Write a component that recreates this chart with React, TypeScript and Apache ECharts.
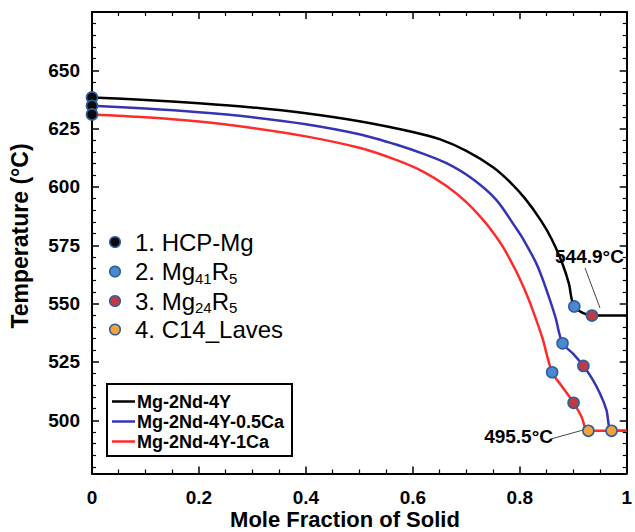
import React, { useEffect, useRef } from "react";
import * as echarts from "echarts";

const FONT = '"Liberation Sans", Arial, Helvetica, sans-serif';

// Axis ranges / ticks
const X_MIN = 0;
const X_MAX = 1;
const Y_MIN = 477.2;
const Y_MAX = 675;
const Y_MAJOR = [500, 525, 550, 575, 600, 625, 650, 675];
const Y_MINOR = [480, 485, 490, 495, 505, 510, 515, 520, 530, 535, 540, 545, 555, 560, 565, 570, 580, 585, 590, 595, 605, 610, 615, 620, 630, 635, 640, 645, 655, 660, 665, 670];
const Y_LABELS = [500, 525, 550, 575, 600, 625, 650];

// Alloys (line series)
const ALLOYS = ["Mg-2Nd-4Y", "Mg-2Nd-4Y-0.5Ca", "Mg-2Nd-4Y-1Ca"];
const ALLOY_COLORS = ["#000000", "#3434b4", "#ff2a2a"];

// Mg-2Nd-4Y
const blackX = [0, 0.1, 0.2, 0.3, 0.4, 0.5, 0.6, 0.65, 0.7, 0.75, 0.78, 0.81, 0.84, 0.86, 0.88, 0.892, 0.902, 0.935, 1.0];
const blackT = [638.4, 637.3, 635.9, 634.1, 631.6, 628.2, 623.6, 620.5, 615.5, 608.5, 602.5, 595.0, 585.5, 577.5, 567.0, 558.5, 548.8, 544.9, 544.9];

// Mg-2Nd-4Y-0.5Ca
const blueX = [0, 0.1, 0.2, 0.3, 0.4, 0.5, 0.57, 0.62, 0.663, 0.71, 0.756, 0.793, 0.805, 0.83, 0.842, 0.856, 0.867, 0.88, 0.9, 0.919, 0.935, 0.95, 0.962, 0.9716, 1.0];
const blueT = [634.8, 633.6, 632.0, 629.9, 626.9, 622.6, 618.1, 614.2, 610.2, 603.7, 594.5, 582.4, 578.2, 567.7, 561.0, 551.8, 543.9, 533.0, 528.5, 523.3, 518.0, 511.5, 504.5, 495.5, 495.5];

// Mg-2Nd-4Y-1Ca
const redX = [0, 0.1, 0.2, 0.3, 0.4, 0.5, 0.57, 0.62, 0.663, 0.7, 0.731, 0.75, 0.768, 0.793, 0.81, 0.823, 0.842, 0.8605, 0.88, 0.9006, 0.915, 0.9283, 1.0];
const redT = [631.1, 629.9, 628.1, 625.3, 621.7, 616.8, 611.5, 606.5, 600.4, 593.5, 586.0, 580.5, 574.5, 564.0, 555.5, 548.0, 535.5, 520.6, 514.2, 507.5, 501.8, 495.5, 495.5];

// Phase markers
const PHASES = ["1. HCP-Mg", "2. Mg{sub|41}R{sub|5}", "3. Mg{sub|24}R{sub|5}", "4. C14_Laves"];
const PHASE_COLORS = ["#0b0b0b", "#4a88d0", "#c03a40", "#f5a23a"];
const MARKER_BORDER = "#2e5f9e";
const hcpX = [0, 0, 0];
const hcpT = [638.4, 634.8, 631.1];
const mg41X = [0.902, 0.88, 0.8605];
const mg41T = [548.8, 533.0, 520.6];
const mg24X = [0.935, 0.919, 0.9006];
const mg24T = [544.9, 523.3, 507.5];
const c14X = [0.9716, 0.9283];
const c14T = [495.5, 495.5];

// Annotations
const ANNOT_TEXT = ["544.9°C", "495.5°C"];
const arrow1 = [[0.922, 565.3], [0.95, 548.2]];
const arrow2 = [[0.857, 491.9], [0.921, 496.0]];

const zip = (xs: number[], ys: number[]) => xs.map((x, i) => [x, ys[i]]);

function buildOption() {
  const xBase = (position: "bottom" | "top", showLabel: boolean) => ({
    type: "value",
    position,
    min: X_MIN,
    max: X_MAX,
    interval: 0.2,
    axisLine: { show: true, onZero: false, lineStyle: { color: "#000", width: 2 } },
    axisTick: { show: true, inside: true, length: 7, lineStyle: { color: "#000", width: 1.5 } },
    minorTick: { show: true, splitNumber: 4, length: 4, lineStyle: { color: "#000", width: 1.2 } },
    splitLine: { show: false },
    minorSplitLine: { show: false },
    axisLabel: {
      show: showLabel,
      margin: 14,
      color: "#000",
      fontFamily: FONT,
      fontWeight: "bold",
      fontSize: 19,
      formatter: (v: number) => String(Math.round(v * 10) / 10),
    },
  });

  const yBase = (position: "left" | "right", major: boolean, showLabel: boolean) => ({
    type: "value",
    position,
    min: Y_MIN,
    max: Y_MAX,
    axisLine: { show: major, onZero: false, lineStyle: { color: "#000", width: 2 } },
    axisTick: {
      show: true,
      inside: true,
      length: major ? 7 : 4,
      customValues: major ? Y_MAJOR : Y_MINOR,
      lineStyle: { color: "#000", width: major ? 1.5 : 1.2 },
    },
    splitLine: { show: false },
    axisLabel: {
      show: showLabel,
      customValues: showLabel ? Y_LABELS : undefined,
      margin: 12,
      color: "#000",
      fontFamily: FONT,
      fontWeight: "bold",
      fontSize: 19,
    },
  });

  const lineSeries = (name: string, color: string, xs: number[], ys: number[], z: number, markLine?: any) => ({
    type: "line",
    name,
    data: zip(xs, ys),
    xAxisIndex: 0,
    yAxisIndex: 0,
    showSymbol: false,
    symbol: "none",
    smooth: 0.3,
    z,
    lineStyle: { color, width: 2.5 },
    markLine,
  });

  const arrowML = (pts: number[][]) => ({
    silent: true,
    symbol: ["none", "arrow"],
    symbolSize: [0, 7],
    label: { show: false },
    lineStyle: { color: "#444", width: 1, type: "solid" },
    data: [[{ coord: pts[0] }, { coord: pts[1] }]],
  });

  const scatter = (name: string, color: string, xs: number[], ys: number[]) => ({
    type: "scatter",
    name,
    data: zip(xs, ys),
    xAxisIndex: 0,
    yAxisIndex: 0,
    symbol: "circle",
    symbolSize: 11,
    clip: false,
    z: 10,
    itemStyle: { color, borderColor: MARKER_BORDER, borderWidth: 1.6, opacity: 1 },
  });

  const legendYs = [242, 271.5, 301, 329.5];
  const lineLegendYs = [401.5, 421.5, 441.5];

  const graphic: any[] = [
    {
      type: "text",
      x: 20,
      y: 236,
      rotation: Math.PI / 2,
      style: {
        text: "Temperature (°C)",
        fontFamily: FONT,
        fontWeight: "bold",
        fontSize: 23,
        fill: "#000",
        align: "center",
        verticalAlign: "middle",
      },
    },
    {
      type: "text",
      x: 345,
      y: 519,
      style: {
        text: "Mole Fraction of Solid",
        fontFamily: FONT,
        fontWeight: "bold",
        fontSize: 22,
        fill: "#000",
        align: "center",
        verticalAlign: "middle",
      },
    },
    {
      type: "text",
      x: 555,
      y: 256,
      z: 20,
      style: { text: ANNOT_TEXT[0], fontFamily: FONT, fontWeight: "bold", fontSize: 19, fill: "#000", align: "left", verticalAlign: "middle" },
    },
    {
      type: "text",
      x: 553,
      y: 436,
      z: 20,
      style: { text: ANNOT_TEXT[1], fontFamily: FONT, fontWeight: "bold", fontSize: 19, fill: "#000", align: "right", verticalAlign: "middle" },
    },
  ];

  PHASES.forEach((label, i) => {
    graphic.push({
      type: "circle",
      z: 20,
      shape: { cx: 115, cy: legendYs[i], r: 5.3 },
      style: { fill: PHASE_COLORS[i], stroke: MARKER_BORDER, lineWidth: 1.5 },
    });
    graphic.push({
      type: "text",
      x: 135,
      y: legendYs[i],
      z: 20,
      style: {
        text: label,
        fontFamily: FONT,
        fontSize: 24,
        fill: "#000",
        align: "left",
        verticalAlign: "middle",
        lineHeight: 28,
        rich: {
          sub: { fontFamily: FONT, fontSize: 15, fill: "#000", verticalAlign: "bottom", lineHeight: 15 },
        },
      },
    });
  });

  graphic.push({
    type: "rect",
    z: 20,
    shape: { x: 107, y: 384, width: 185, height: 72 },
    style: { fill: "#fff", stroke: "#000", lineWidth: 2 },
  });
  ALLOYS.forEach((name, i) => {
    graphic.push({
      type: "line",
      z: 21,
      shape: { x1: 112, y1: lineLegendYs[i], x2: 135, y2: lineLegendYs[i] },
      style: { stroke: ALLOY_COLORS[i], lineWidth: 2.5 },
    });
    graphic.push({
      type: "text",
      x: 137,
      y: lineLegendYs[i],
      z: 21,
      style: { text: name, fontFamily: FONT, fontWeight: "bold", fontSize: 18, fill: "#000", align: "left", verticalAlign: "middle" },
    });
  });

  return {
    animation: false,
    backgroundColor: "#fff",
    grid: { left: 92, right: 2.5, top: 12, bottom: 58.5, containLabel: false },
    xAxis: [xBase("bottom", true), xBase("top", false)],
    yAxis: [yBase("left", true, true), yBase("left", false, false), yBase("right", true, false), yBase("right", false, false)],
    series: [
      lineSeries(ALLOYS[0], ALLOY_COLORS[0], blackX, blackT, 2, arrowML(arrow1)),
      lineSeries(ALLOYS[1], ALLOY_COLORS[1], blueX, blueT, 3),
      lineSeries(ALLOYS[2], ALLOY_COLORS[2], redX, redT, 4, arrowML(arrow2)),
      scatter("HCP-Mg", PHASE_COLORS[0], hcpX, hcpT),
      scatter("Mg41R5", PHASE_COLORS[1], mg41X, mg41T),
      scatter("Mg24R5", PHASE_COLORS[2], mg24X, mg24T),
      scatter("C14_Laves", PHASE_COLORS[3], c14X, c14T),
    ],
    graphic,
  };
}

export default function App() {
  const ref = useRef<HTMLDivElement>(null);
  useEffect(() => {
    if (!ref.current) return;
    const chart = echarts.init(ref.current, undefined, { renderer: "svg" });
    chart.setOption(buildOption() as any);
    return () => chart.dispose();
  }, []);
  return <div ref={ref} style={{ width: 635, height: 532, position: "absolute", left: 0, top: 0 }} />;
}
